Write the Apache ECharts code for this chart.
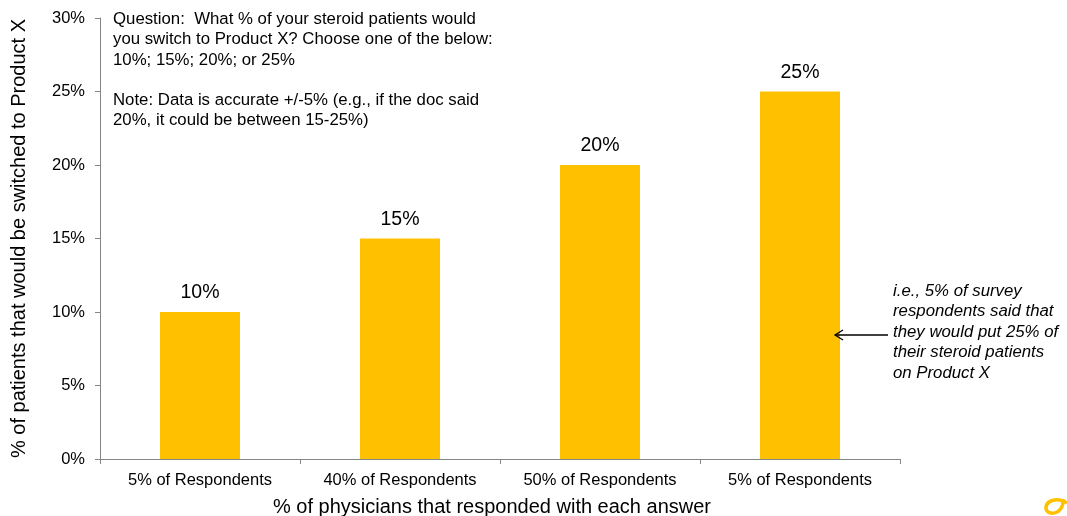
<!DOCTYPE html>
<html>
<head>
<meta charset="utf-8">
<script src="https://cdn.jsdelivr.net/npm/echarts@6/dist/echarts.min.js"></script>
<style>
  html, body { margin: 0; padding: 0; background: #fff; }
  #chart { width: 1067px; height: 516px; }
</style>
</head>
<body>
<div id="chart"></div>
<script>
// Share of physicians giving each answer, and the answer itself (% of patients switched)
const categories = ['5% of Respondents', '40% of Respondents', '50% of Respondents', '5% of Respondents'];
const switchedPct = [10, 15, 20, 25];
const yTicks = [0, 5, 10, 15, 20, 25, 30];

const questionLines = [
  'Question:  What % of your steroid patients would',
  'you switch to Product X? Choose one of the below:',
  '10%; 15%; 20%; or 25%',
  '',
  'Note: Data is accurate +/-5% (e.g., if the doc said',
  '20%, it could be between 15-25%)'
];
const noteLines = [
  'i.e., 5% of survey',
  'respondents said that',
  'they would put 25% of',
  'their steroid patients',
  'on Product X'
];

const font = '"Liberation Sans", Arial, sans-serif';
const chart = echarts.init(document.getElementById('chart'));

chart.setOption({
  animation: false,
  textStyle: { fontFamily: font },
  grid: { left: 100, right: 167, top: 18, bottom: 57, containLabel: false, outerBoundsMode: 'none' },
  xAxis: {
    type: 'category',
    data: categories,
    name: '% of physicians that responded with each answer',
    nameLocation: 'middle',
    nameGap: 38,
    nameTextStyle: { fontSize: 20, color: '#000', fontFamily: font, padding: [0, 16, 0, 0] },
    axisLine: { lineStyle: { color: '#868686', width: 1 } },
    axisTick: { show: true, length: 5, lineStyle: { color: '#868686' } },
    axisLabel: { fontSize: 16.5, color: '#000', margin: 13, fontFamily: font },
    splitLine: { show: false }
  },
  yAxis: {
    type: 'value',
    min: yTicks[0],
    max: yTicks[yTicks.length - 1],
    interval: 5,
    name: '% of patients that would be switched to Product X',
    nameLocation: 'middle',
    nameGap: 71,
    nameRotate: 90,
    nameTextStyle: { fontSize: 20, color: '#000', fontFamily: font },
    axisLine: { show: true, lineStyle: { color: '#868686', width: 1 } },
    axisTick: { show: true, length: 5, lineStyle: { color: '#868686' } },
    axisLabel: { fontSize: 16.5, color: '#000', margin: 15, formatter: v => v + '%', fontFamily: font },
    splitLine: { show: false }
  },
  series: [{
    type: 'bar',
    data: switchedPct,
    barWidth: 80,
    itemStyle: { color: '#FFC000' },
    label: {
      show: true,
      position: 'top',
      distance: 9,
      fontSize: 19.5,
      color: '#000',
      fontFamily: font,
      formatter: p => p.value + '%'
    }
  }],
  graphic: [
    {
      type: 'text',
      x: 113,
      y: 9.5,
      z: 100,
      style: {
        text: questionLines.join('\n'),
        font: '16.8px ' + font,
        lineHeight: 20.2,
        fill: '#000'
      }
    },
    {
      type: 'text',
      x: 893,
      y: 281,
      z: 100,
      style: {
        text: noteLines.join('\n'),
        font: 'italic 16.8px ' + font,
        lineHeight: 20.5,
        fill: '#000'
      }
    },
    {
      type: 'line',
      z: 100,
      shape: { x1: 835, y1: 335, x2: 888, y2: 335 },
      style: { stroke: '#000', lineWidth: 1.3 }
    },
    {
      type: 'polyline',
      z: 100,
      shape: { points: [[843, 330], [835, 335], [843, 340]] },
      style: { stroke: '#000', lineWidth: 1.3, fill: null }
    },
    // small corner mark
    {
      type: 'bezierCurve',
      z: 100,
      shape: { x1: 1067, y1: 503, cpx1: 1058, cpy1: 497, cpx2: 1046, cpy2: 500, x2: 1046, y2: 508 },
      style: { stroke: '#FFC000', lineWidth: 3.5, fill: null }
    },
    {
      type: 'bezierCurve',
      z: 100,
      shape: { x1: 1046, y1: 508, cpx1: 1046, cpy1: 516, cpx2: 1064, cpy2: 516, x2: 1063, y2: 499 },
      style: { stroke: '#FFC000', lineWidth: 3.5, fill: null }
    }
  ]
});
</script>
</body>
</html>
